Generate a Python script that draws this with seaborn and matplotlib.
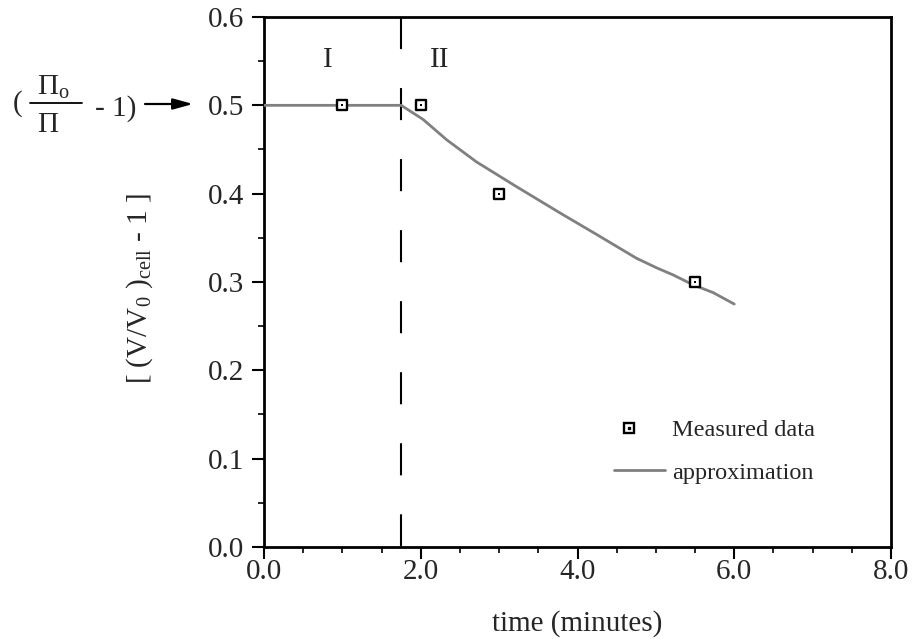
import matplotlib
matplotlib.use("Agg")
import matplotlib.pyplot as plt
import seaborn as sns
from matplotlib.lines import Line2D
from matplotlib.legend_handler import HandlerLine2D
from matplotlib.ticker import MultipleLocator, FormatStrFormatter

# Measured cell volume response
measured_time = [1.0, 2.0, 3.0, 5.5]
measured_value = [0.5, 0.5, 0.4, 0.3]

# Model approximation (plateau in phase I, decay in phase II)
approx_time = [0.0, 1.75, 2.03, 2.33, 2.71, 3.22, 3.78, 4.24, 4.75, 5.01, 5.22, 5.47, 5.73, 6.0]
approx_value = [0.5, 0.5, 0.484, 0.461, 0.436, 0.408, 0.378, 0.354, 0.327, 0.316, 0.308, 0.297, 0.288, 0.275]

phase_boundary = 1.75
phase_labels = ["I", "II"]
phase_label_x = [0.81, 2.24]
phase_label_y = 0.551

x_ticks = [0.0, 2.0, 4.0, 6.0, 8.0]
y_ticks = [0.0, 0.1, 0.2, 0.3, 0.4, 0.5, 0.6]

sns.set_style("ticks")
plt.rcParams["font.family"] = ["Liberation Serif", "DejaVu Serif"]
plt.rcParams["mathtext.fontset"] = "custom"
plt.rcParams["mathtext.rm"] = "Liberation Serif"
plt.rcParams["mathtext.it"] = "Liberation Serif:italic"
plt.rcParams["mathtext.bf"] = "Liberation Serif:bold"

FS = 21
W, H = 913, 639


def px(x, y):
    """Pixel position (from top-left) to figure fraction."""
    return x / W, 1 - y / H


class MarkerLeftHandler(HandlerLine2D):
    """Legend handler that draws the single marker left of centre."""

    def get_xdata(self, legend, xdescent, ydescent, width, height, fontsize):
        x0 = -xdescent
        return [x0, x0 + 0.6 * width], [x0 + 0.3 * width]


fig = plt.figure(figsize=(W / 100, H / 100), dpi=100)
ax = fig.add_axes([0.2892, 0.1440, 0.6867, 0.8294])

# phase boundary
ax.plot([phase_boundary, phase_boundary], [0.6, 0.0], color="black", lw=1.5,
        dashes=(15.4, 18.7), zorder=2)

sns.lineplot(x=approx_time, y=approx_value, color="#808080", lw=2.0, ax=ax,
             zorder=3, legend=False)
sns.scatterplot(x=measured_time, y=measured_value, marker="s", s=46,
                facecolor="white", edgecolor="black", linewidth=1.7, ax=ax,
                zorder=4, legend=False)
sns.scatterplot(x=measured_time, y=measured_value, marker="s", s=2.5,
                color="black", linewidth=0, ax=ax, zorder=5, legend=False)

for lab, lx in zip(phase_labels, phase_label_x):
    ax.text(lx, phase_label_y, lab, fontsize=FS, ha="center", va="center")

ax.set_xlim(0, 8)
ax.set_ylim(0, 0.6)
ax.set_xticks(x_ticks)
ax.set_yticks(y_ticks)
ax.xaxis.set_minor_locator(MultipleLocator(0.5))
ax.yaxis.set_minor_locator(MultipleLocator(0.05))
ax.xaxis.set_major_formatter(FormatStrFormatter("%.1f"))
ax.yaxis.set_major_formatter(FormatStrFormatter("%.1f"))
ax.tick_params(which="major", direction="out", length=8.5, width=1.5,
               labelsize=FS, color="black")
ax.tick_params(axis="y", which="major", pad=6)
ax.tick_params(axis="x", which="major", pad=0)
ax.tick_params(which="minor", direction="out", length=4.3, width=1.2, color="black")
ax.tick_params(axis="x", which="both", top=False)
ax.tick_params(axis="y", which="both", right=False)
for sp in ax.spines.values():
    sp.set_linewidth(2.0)
    sp.set_color("black")

ax.set_xlabel("time (minutes)", fontsize=FS, labelpad=18)
ax.set_ylabel(r"[ (V/V$_0$ )$_{\mathrm{cell}}$ - 1 ]", fontsize=FS)
ax.yaxis.set_label_coords(-0.174, 0.487)

# osmotic pressure ratio term, pointing at the plateau level
fig.text(*px(13, 111), "(", fontsize=FS, ha="left", va="baseline")
fig.text(*px(37, 95), r"$\Pi_{\mathrm{o}}$", fontsize=FS, ha="left", va="baseline")
fig.text(*px(37, 132), r"$\Pi$", fontsize=FS, ha="left", va="baseline")
fig.add_artist(Line2D([30 / W, 82 / W], [1 - 103 / H, 1 - 103 / H],
                      color="black", lw=1.3, transform=fig.transFigure))
fig.text(*px(95, 116), "- 1)", fontsize=FS, ha="left", va="baseline")
ax.annotate("", xy=(193, H - 104), xytext=(145, H - 104),
            xycoords="figure pixels", textcoords="figure pixels",
            arrowprops=dict(arrowstyle="-|>,head_length=0.8,head_width=0.22",
                            mutation_scale=15, lw=1.6, color="black",
                            shrinkA=0, shrinkB=0),
            annotation_clip=False)

square = Line2D([], [], marker="s", ls="none", markersize=6.6, markerfacecolor="white",
                markeredgecolor="black", markeredgewidth=1.7)
dot = Line2D([], [], marker="s", ls="none", markersize=1.6, color="black")
line_handle = Line2D([], [], color="#808080", lw=2.0)
ax.legend([(square, dot), line_handle], ["Measured data", "approximation"],
          loc="center left", bbox_to_anchor=(0.5577, 0.180), frameon=False,
          fontsize=17.5, handlelength=2.1, handletextpad=0.3, labelspacing=0.84,
          borderpad=0, borderaxespad=0,
          handler_map={square: MarkerLeftHandler(), dot: MarkerLeftHandler()})

fig.savefig("out.png", dpi=100)
